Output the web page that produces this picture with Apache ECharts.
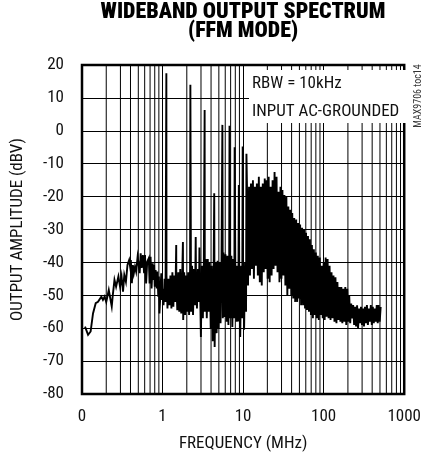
<!DOCTYPE html>
<html><head><meta charset="utf-8">
<script src="https://cdn.jsdelivr.net/npm/echarts@6/dist/echarts.min.js"></script>
<style>html,body{margin:0;padding:0;background:#fff}#c{width:424px;height:459px}</style>
</head><body><div id="c"></div><script>
// ---- data (frequency in MHz, amplitude in dBV) ----
const lfFreq=[0.109,0.119,0.128,0.137,0.148,0.158,0.166,0.174,0.182,0.191,0.200,0.215,0.224,0.234,0.241,0.253,0.265,0.283,0.297,0.310,0.323,0.335,0.351,0.367,0.385,0.396,0.404,0.416,0.428,0.44,0.455,0.47,0.49,0.50,0.52,0.535,0.55,0.57,0.59,0.605,0.625,0.645,0.675,0.69,0.71,0.73,0.755,0.77,0.785,0.80,0.82,0.845,0.865,0.885,0.90,0.915,0.93,0.945,0.965,0.981,1.000];
const lfAmp=[-59.5,-62,-61,-55.5,-52.4,-52,-51.4,-50.4,-51.4,-50.4,-52,-48.4,-47.8,-53.4,-50,-45.3,-47.4,-44.3,-47.4,-44.3,-48.9,-43.8,-45.9,-40.8,-39.3,-41.3,-39.3,-46.3,-40.8,-43.3,-41.3,-42.8,-38.3,-39.8,-43.3,-37.2,-41.7,-37.8,-43.3,-37.8,-46.4,-39.8,-38.7,-46.4,-38.3,-47.9,-40.3,-45.3,-40.8,-47.4,-42.3,-47.9,-42.8,-50.4,-44.3,-55.5,-52,-47.4,-43.3,-51.4,-48];

const midFreq=[1.0285,1.0578,1.0879,1.115,1.1189,1.1508,1.1836,1.2173,1.252,1.2877,1.3244,1.3621,1.4009,1.4408,1.478,1.4819,1.5241,1.5676,1.6122,1.6582,1.7054,1.7541,1.79,1.8041,1.8555,1.9084,1.9627,2.0186,2.0762,2.1354,2.1962,2.215,2.2588,2.3231,2.3893,2.4574,2.5274,2.58,2.5995,2.6736,2.7497,2.8281,2.87,2.9087,2.9916,3.0768,3.1645,3.2546,3.33,3.3473,3.4428,3.5409,3.6418,3.7456,3.8523,3.9621,4.075,4.191,4.3105,4.38,4.4333,4.5597,4.6896,4.8232,4.9606,5.102,5.2474,5.397,5.53,5.6,5.7089,5.8716,6.0389,6.211,6.388,6.57,6.72,6.78,6.95,7.1478,7.3515,7.561,7.7764,7.85,7.9981,8.226,8.4604,8.7015,8.85,8.9494,9.2046,9.4667,9.7366,9.88,10.0,10.285,10.578,10.879,11.0];
const midAmp=[-53,-45,-52,17.5,-44,-54,-45,-53,-44,-54,-43,-53.5,-44,-52,-34.7,-45,-54.5,-43,-55,-42,-55.5,-44,-33.8,-57.5,-43,-56,-44,-55,-43,-56,-42,14,-55,-41,-56,-42,-53,-32.3,-43,-54,-42,-52,-35.5,-44,-62.7,-41,-57,-40,6.3,-55,-39,-57,-39,-55,-40,-60,-41,-64,-42,-19,-65.7,-40,-61.5,-39.5,-60,-40,-58.5,-39,1.8,-57,-37,-56.6,-37.5,-58,-38,-59,-38,1.5,-57,-38,-59.6,-39,-57,-5,-40,-58,-41,-58,-16.5,-41,-62.7,-41,-57,-4.8,-41,-60.5,-40,-55,-7];

const hfFreq=[11.19,11.51,11.84,12.17,12.52,12.88,13.24,13.62,14.01,14.41,14.82,15.24,15.68,16.12,16.58,17.05,17.54,18.04,18.56,19.08,19.63,20.19,20.76,21.35,21.96,22.59,23.23,23.89,24.57,25.27,26.0,26.74,27.5,28.28,29.09,29.92,30.77,31.65,32.55,33.47,34.43,35.41,36.42,37.46,38.52,39.62,40.75,41.91,43.11,44.33,45.6,46.9,48.23,49.61,51.02,52.47,53.97,55.51,57.09,58.72,60.39,62.11,63.88,65.7,67.57,69.5,71.48,73.52,75.61,77.76,79.98,82.26,84.6,87.02,89.49,92.05,94.67,97.37];
const hfAmp=[-18,-47,-17,-44,-16,-42,-15,-45,-17,-41,-16,-44,-14,-46,-17,-47,-16,-43,-14.5,-42,-15,-45,-14,-46,-17,-44,-15,-42,-12.5,-41,-14,-43,-18.5,-46,-17,-45,-18,-44,-19.5,-47,-20,-50,-23,-48,-24,-50,-25,-51,-26.5,-52,-27,-52,-28,-51,-28.5,-53,-29.5,-53,-30,-54,-31,-54.5,-32,-55,-33,-56,-34.7,-57,-36,-56,-37,-57,-38,-57.5,-38.5,-56,-41,-57];

const vhfFreq=[100,102.9,105.8,108.8,111.9,115.1,118.4,121.7,125.2,128.8,132.4,136.2,140.1,144.1,148.2,152.4,156.8,161.2,165.8,170.5,175.4,180.4,185.6,190.8,196.3,201.9,207.6,213.5,219.6,225.9,232.3,238.9,245.7,252.7,260,267.4,275,282.8,290.9,299.2,307.7,316.5,325.5,334.7,344.3,354.1,364.2,374.6,385.2,396.2,407.5,419.1,431.1,443.3,456,469,482.3,496.1,510.2];
const vhfAmp=[-40,-57.5,-38.5,-56.5,-39,-57,-41,-57.5,-43,-57,-44,-58,-44.5,-58.5,-46,-57.5,-47.5,-58,-47.5,-58.5,-48,-58,-47.5,-59,-48,-58,-50,-58.5,-52.5,-57,-53,-59,-53.5,-59.5,-53,-60,-54,-58.5,-53.5,-59,-54,-59.5,-53.5,-58.5,-53,-59,-54,-58,-53,-59,-53.5,-58.5,-54,-58,-53,-58.5,-53,-58,-53.5];

const xTickLabels=['0','1','10','100','1000'];   // shown at 0.1, 1, 10, 100, 1000 MHz
const minorGridFreq=[0.2,0.3,0.4,0.5,0.6,0.7,0.8,0.9,2,3,4,5,6,7,8,9,20,30,40,50,60,70,80,90,200,300,400,500,600,700,800,900];

// ---- build ----
function pairs(f,a){return f.map((v,i)=>[v,a[i]]);}
const trace=[].concat(pairs(lfFreq,lfAmp),pairs(midFreq,midAmp),pairs(hfFreq,hfAmp),pairs(vhfFreq,vhfAmp));
const gridData=[];
minorGridFreq.forEach(f=>{gridData.push([f,-80],[f,20],[f,'-']);});

const COND='"Roboto Condensed", "Roboto", sans-serif';
const TITLE='900 22px "Roboto Condensed", "DejaVu Sans Condensed", sans-serif';
const chart=echarts.init(document.getElementById('c'),null,{renderer:'canvas'});
chart.setOption({
  animation:false,
  backgroundColor:'#fff',
  grid:{left:82,right:13,top:65,bottom:65,show:true,borderColor:'#000',borderWidth:2.5,backgroundColor:'transparent'},
  xAxis:{type:'log',logBase:10,min:0.1,max:1000,
    axisLine:{show:false},axisTick:{show:false},
    splitLine:{show:true,lineStyle:{color:'#000',width:1}},
    axisLabel:{margin:14,fontSize:17,fontFamily:COND,color:'#111',
      formatter:v=>xTickLabels[Math.round(Math.log10(v))+1]},
    name:'FREQUENCY (MHz)',nameLocation:'middle',nameGap:41,
    nameTextStyle:{fontSize:17,fontFamily:COND,color:'#111'}},
  yAxis:{type:'value',min:-80,max:20,interval:10,
    axisLine:{show:false},axisTick:{show:false},
    splitLine:{show:true,lineStyle:{color:'#000',width:1}},
    axisLabel:{margin:18,fontSize:17,fontFamily:COND,color:'#111'},
    name:'OUTPUT AMPLITUDE (dBV)',nameLocation:'middle',nameGap:56,
    nameTextStyle:{fontSize:17,fontFamily:COND,color:'#111'}},
  series:[
    {type:'line',data:gridData,symbol:'none',silent:true,z:1,connectNulls:false,
     lineStyle:{color:'#000',width:1}},
    {type:'line',data:trace,symbol:'none',showSymbol:false,z:3,
     lineStyle:{color:'#000',width:1.9,join:'miter'}}
  ],
  graphic:[
    {type:'text',z:100,style:{x:243,y:12,text:'WIDEBAND OUTPUT SPECTRUM',align:'center',verticalAlign:'middle',
      font:TITLE,fill:'#000'}},
    {type:'text',z:100,style:{x:243,y:31,text:'(FFM MODE)',align:'center',verticalAlign:'middle',
      font:TITLE,fill:'#000'}},
    {type:'rect',z:100,shape:{x:249,y:70,width:158,height:53},style:{fill:'#fff'}},
    {type:'text',z:101,style:{x:252,y:84,text:'RBW = 10kHz',align:'left',verticalAlign:'middle',
      font:'17px '+COND,fill:'#111'}},
    {type:'text',z:101,style:{x:252,y:112,text:'INPUT AC-GROUNDED',align:'left',verticalAlign:'middle',
      font:'17px '+COND,fill:'#111'}},
    {type:'text',z:101,x:418,y:96,rotation:Math.PI/2,style:{x:0,y:0,text:'MAX9706 toc14',align:'center',verticalAlign:'middle',
      font:'10px '+COND,fill:'#333'}}
  ]
});
</script></body></html>
